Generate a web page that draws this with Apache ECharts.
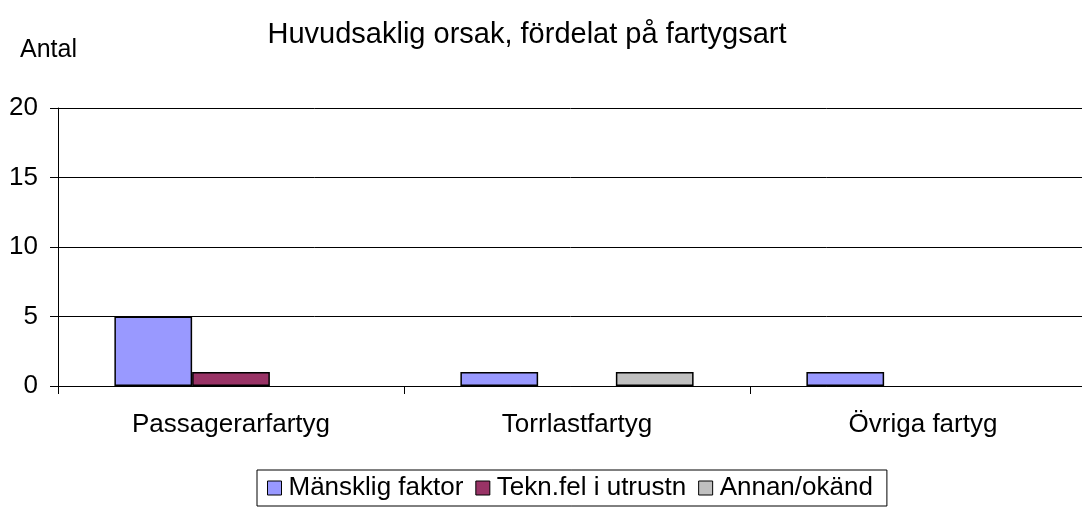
<!DOCTYPE html>
<html>
<head>
<meta charset="utf-8">
<script src="https://cdn.jsdelivr.net/npm/echarts@6/dist/echarts.min.js"></script>
<style>
    html, body { margin: 0; padding: 0; background: #fff; }
    #chart { width: 1082px; height: 510px; }
</style>
</head>
<body>
<div id="chart"></div>
<script>
    var categories = ['Passagerarfartyg', 'Torrlastfartyg', 'Övriga fartyg'];
    var seriesNames = ['Mänsklig faktor', 'Tekn.fel i utrustn', 'Annan/okänd'];
    var mansklig = [5, 1, 1];
    var tekn = [1, 0, 0];
    var annan = [0, 1, 0];
    var colors = ['#9999ff', '#993366', '#c0c0c0'];

    var font = 'Liberation Sans, Arial, sans-serif';
    var myChart = echarts.init(document.getElementById('chart'));
    // zero values get no outline, like the original (nothing drawn)
    var mk = function (name, data, color) {
        return {
            name: name,
            type: 'bar',
            data: data.map(function (v) {
                return v === 0 ? { value: v, itemStyle: { borderWidth: 0, opacity: 0 } } : v;
            }),
            barGap: '0%',
            barCategoryGap: '32.6%',
            itemStyle: { color: color, borderColor: '#000', borderWidth: 1.5 },
            animation: false
        };
    };
    var option = {
        textStyle: { fontFamily: font },
        title: [{
            text: 'Huvudsaklig orsak, fördelat på fartygsart',
            left: 522, top: 15, textAlign: 'center',
            textStyle: { fontFamily: font, fontSize: 29, fontWeight: 'normal', color: '#000' }
        }, {
            text: 'Antal',
            left: 15, top: 33,
            textStyle: { fontFamily: font, fontSize: 25, fontWeight: 'normal', color: '#000' }
        }],
        legend: {
            data: seriesNames,
            left: 257, top: 470,
            width: 640,
            icon: 'rect',
            itemWidth: 14, itemHeight: 14, itemGap: 12,
            padding: [5, 14, 5, 10],
            borderColor: '#000', borderWidth: 1,
            textStyle: { fontFamily: font, fontSize: 26, color: '#000', padding: [0, 0, 0, 2] },
            itemStyle: { borderColor: '#000', borderWidth: 1 }
        },
        grid: { left: 58, width: 1038, top: 108, bottom: 124, outerBoundsMode: 'none' },
        xAxis: {
            type: 'category',
            data: categories,
            axisLine: { lineStyle: { color: '#000', width: 1 } },
            axisTick: { show: true, length: 8, lineStyle: { color: '#000' } },
            axisLabel: { color: '#000', fontSize: 26, margin: 26, fontFamily: font },
            splitLine: { show: false }
        },
        yAxis: {
            type: 'value',
            min: 0, max: 20, interval: 5,
            axisLine: { show: true, lineStyle: { color: '#000', width: 1 } },
            axisTick: { show: true, length: 8, lineStyle: { color: '#000' } },
            axisLabel: { color: '#000', fontSize: 26, margin: 20, fontFamily: font },
            splitLine: { show: true, lineStyle: { color: '#000', width: 1 } }
        },
        series: [
            mk(seriesNames[0], mansklig, colors[0]),
            mk(seriesNames[1], tekn, colors[1]),
            mk(seriesNames[2], annan, colors[2])
        ]
    };
    myChart.setOption(option);
</script>
</body>
</html>
